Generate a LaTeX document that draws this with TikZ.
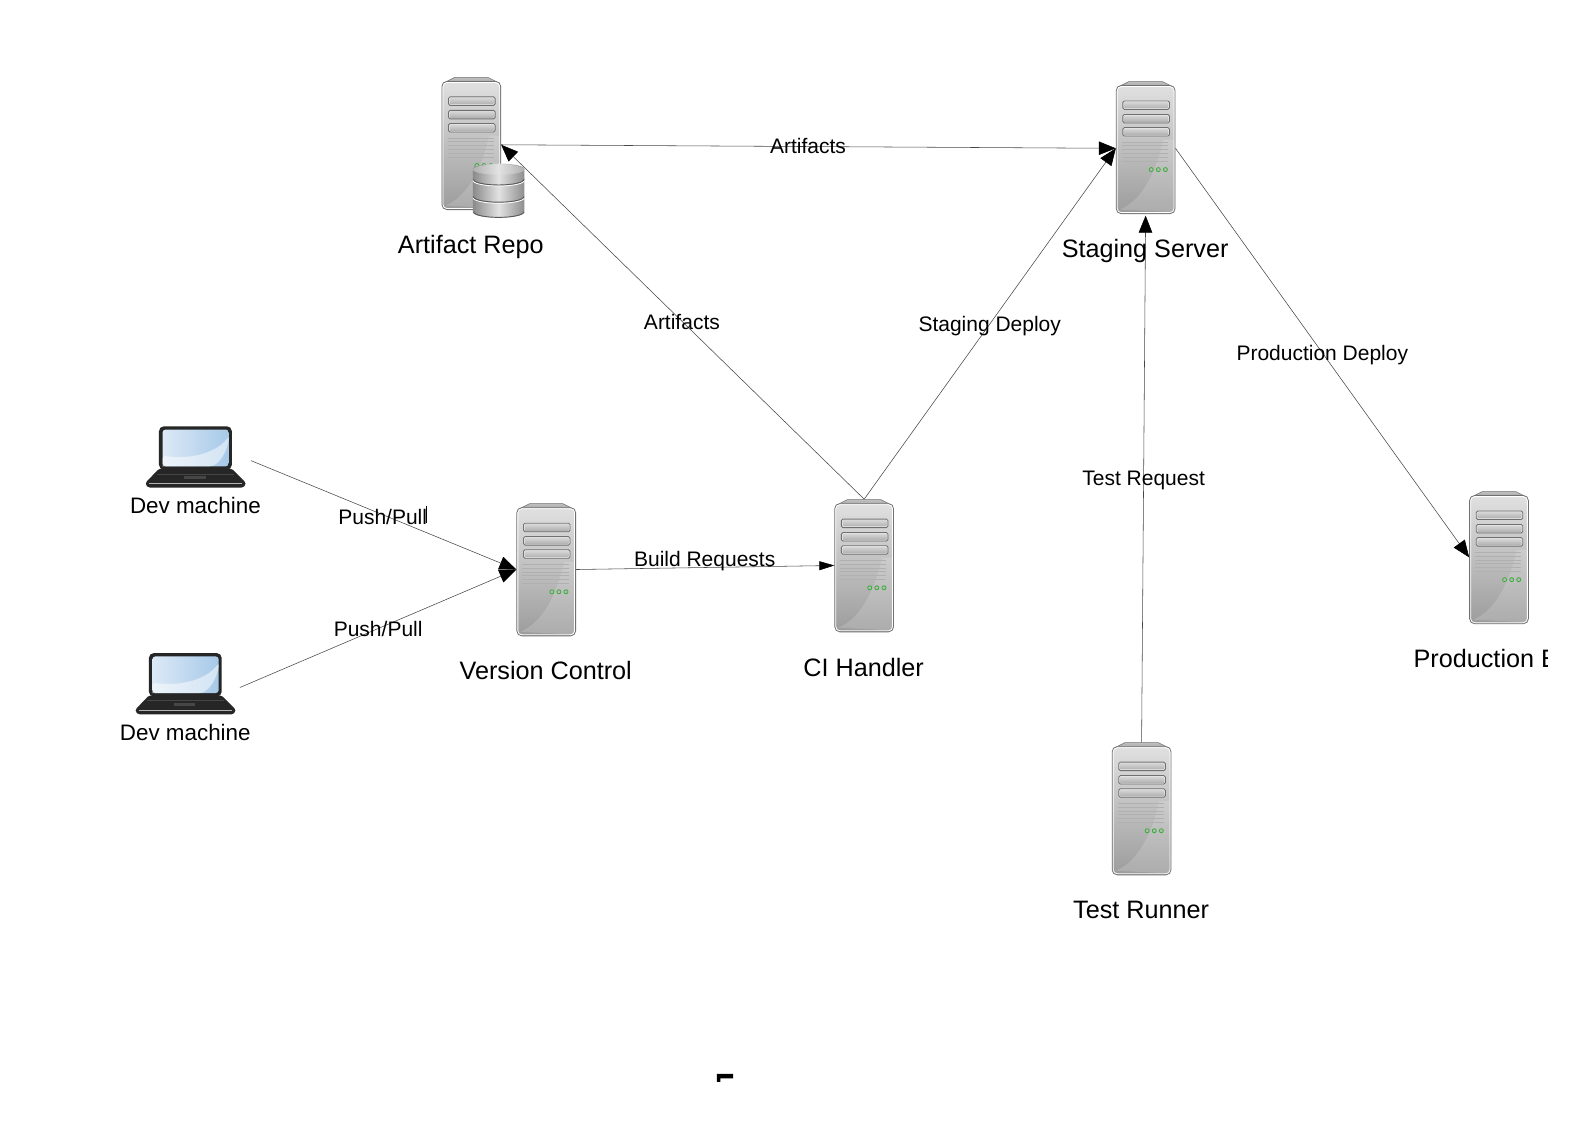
\documentclass[tikz,border=0pt]{standalone}
\usepackage{fontspec}
\setmainfont{Liberation Sans}
\usetikzlibrary{arrows.meta,positioning,calc}
\definecolor{srvedge}{HTML}{707070}
\definecolor{srvtop}{HTML}{E0E0E0}
\definecolor{srvbot}{HTML}{9C9C9C}
\definecolor{slotcol}{HTML}{B8B8B8}
\definecolor{ledcol}{HTML}{35B035}
\definecolor{scrleft}{HTML}{DCE9F6}
\definecolor{scrright}{HTML}{A6C9E8}
\definecolor{dbedge}{HTML}{8A8A8A}
\definecolor{dbmid}{HTML}{E2E2E2}
\tikzset{
  x=1.0125pt,y=-1.0125pt,
  serverbox/.style={minimum width=59.7pt,minimum height=132.6pt,inner sep=0pt,outer sep=0pt},
  laptopbox/.style={minimum width=100pt,minimum height=61.7pt,inner sep=0pt,outer sep=0pt},
  biglabel/.style={font=\fontsize{25.2}{28}\selectfont,text=black,inner sep=0pt},
  devlabel/.style={font=\fontsize{22.4}{26}\selectfont,text=black,inner sep=0pt},
  edgelabel/.style={font=\fontsize{21}{24}\selectfont,text=black,inner sep=0pt},
  link/.style={draw=black!72,line width=0.55pt,-{Triangle[length=17pt,width=13.5pt,black]}},
  linkthin/.style={draw=black!72,line width=0.55pt,-{Triangle[length=15pt,width=9pt,black]}},
  server/.pic={
    \begin{scope}[shift={(-29.5,-65.5)}]
      \path[draw=srvedge,line width=0.5pt,top color=gray!50,bottom color=gray!70]
        (2,6) -- (13,0.5) -- (46,0.5) -- (57,6) -- cycle;
      \path[draw=srvedge,line width=0.9pt,top color=srvtop,bottom color=srvbot,rounded corners=5pt]
        (0.5,4.5) rectangle (58.5,131);
      \fill[white,opacity=0.16] (4,127) .. controls (26,118) and (40,90) .. (47,58)
        -- (57.5,58) -- (57.5,126) .. controls (57.5,128) and (56,129.5) .. (54,129.5) -- cycle;
      \draw[white,line width=0.8pt,rounded corners=4pt] (1.5,5.5) rectangle (57.5,130);
      \foreach \sy in {19.7,33,46}{
        \path[draw=srvedge,line width=0.8pt,top color=gray!35,bottom color=gray!60,rounded corners=1.5pt]
          (7,\sy) rectangle (53,\sy+8.4);
        \draw[white!85!gray,line width=0.5pt,rounded corners=1pt] (8,\sy+1) rectangle (52,\sy+7.4);
        \path[top color=gray!35,bottom color=gray!60] (8.6,\sy+1.6) rectangle (51.4,\sy+6.8);
      }
      \foreach \vy in {60.5,64,68,71.5,75.5,79.5}{
        \draw[gray!62,line width=0.7pt] (6,\vy) -- (51.5,\vy);
      }
      \foreach \lx in {35,42,49}{
        \draw[ledcol,line width=0.8pt,fill=gray!55] (\lx,87.5) circle[radius=2];
      }
    \end{scope}
  },
  dbdisc/.pic={
    \path[left color=dbedge,right color=gray!90,middle color=dbmid]
      (0,0) -- (0,\dbh) arc[start angle=180,end angle=0,x radius=25.5,y radius=5.5]
      -- (51,0) arc[start angle=0,end angle=-180,x radius=25.5,y radius=5.5] -- cycle;
    \draw[white,line width=0.9pt] (0.2,\dbh+0.2) arc[start angle=180,end angle=0,x radius=25.3,y radius=5.5];
    \draw[black!65,line width=0.9pt] (0.6,\dbh-0.8) arc[start angle=180,end angle=0,x radius=24.9,y radius=5.5];
  },
  laptop/.pic={
    \begin{scope}[shift={(-49.5,-30.5)}]
      \path[fill=black!85,rounded corners=1.5pt]
        (13,42) -- (85,42) -- (98.5,55.5) -- (98.5,58) -- (96,60.5) -- (2.5,60.5) -- (0,58) -- (0,55.5) -- cycle;
      \draw[gray!60,line width=0.6pt] (3,56.5) -- (95.5,56.5);
      \draw[gray!55!black,line width=0.6pt] (11,47) -- (87,47);
      \fill[gray!55!black] (38,49) rectangle (59,52);
      \fill[black!85,rounded corners=5pt] (13,0) rectangle (85,43);
      \path[left color=scrleft,right color=scrright,rounded corners=3pt]
        (16.5,3.3) rectangle (82,39.5);
      \fill[white,opacity=0.5,rounded corners=3pt]
        (16.5,29) .. controls (40,33) and (68,28) .. (82,10) -- (82,14)
        .. controls (78,30) and (70,39.5) .. (60,39.5) -- (19,39.5) .. controls (17,39.5) and (16.5,38) .. (16.5,36) -- cycle;
    \end{scope}
  }
}
\begin{document}
\begin{tikzpicture}
\useasboundingbox (0,0) rectangle (1568.4,1109.1);
\fill[white] (0,0) rectangle (1568.4,1109.1);

% placing nodes
\node[serverbox] (artifact) at (465.5,141.5) {};
\node[serverbox] (staging) at (1131.5,145.5) {};
\node[serverbox] (version) at (539.5,562.5) {};
\node[serverbox] (ci) at (853.5,558.5) {};
\node[serverbox] (production) at (1480.5,550.5) {};
\node[serverbox] (testrunner) at (1127.5,798.5) {};
\node[laptopbox] (lap1) at (193.5,451.5) {};
\node[laptopbox] (lap2) at (183.5,675.5) {};
\coordinate (lap1out) at (248,455);
\coordinate (lap2out) at (237,679);

% icons
\pic at (artifact.center) {server};
\pic at (staging.center) {server};
\pic at (version.center) {server};
\pic at (ci.center) {server};
\pic at (production.center) {server};
\pic at (testrunner.center) {server};
\def\dbh{15}
\pic at (467,195) {dbdisc};
\def\dbh{18}
\pic at (467,177) {dbdisc};
\def\dbh{11}
\pic at (467,167) {dbdisc};
\path[left color=gray!62,right color=gray!62,middle color=gray!22]
  (492.5,167.5) ellipse[x radius=25.5,y radius=5];

\pic at (lap1.center) {laptop};
\pic at (lap2.center) {laptop};

% connectors
\draw[link] ([yshift=-1.5pt]artifact.east) -- ([yshift=-1pt]staging.west);
\draw[link] (ci.north) -- ([yshift=-1.5pt]artifact.east);
\draw[link] (ci.north) -- ([yshift=-1pt]staging.west);
\draw[link,shorten >=2pt] (testrunner.north) -- (staging.south);
\draw[link] ([yshift=-1pt]staging.east) -- (production.west);
\draw[link] (lap1out) -- (version.west);
\draw[link] (lap2out) -- (version.west);
\draw[linkthin] (version.east) -- (ci.west);

% labels of the connectors
\node[edgelabel] (l1) at (798,144) {Artifacts};
\node[edgelabel] (l2) at (673.5,318) {Artifacts};
\node[edgelabel] (l3) at (977.5,322) {Staging Deploy};
\node[edgelabel] (l4) at (1306,351) {Production Deploy};
\node[edgelabel] (l5) at (1129.5,475) {Test Request};
\node[edgelabel] (l6) at (378,511) {Push/Pull};
\node[edgelabel] (l7) at (373.5,621) {Push/Pull};
\node[edgelabel] (l8) at (696,554) {Build Requests};
\draw[black,line width=0.8pt] (421,499.5) -- (421,517);

% labels of the icons
\node[biglabel] (t1) at (465,243.5) {Artifact Repo};
\node[biglabel] (t2) at (1131,247.5) {Staging Server};
\node[biglabel] (t3) at (539,662.5) {Version Control};
\node[biglabel] (t4) at (853,659) {CI Handler};
\node[biglabel] (t5) at (1127,898.5) {Test Runner};
\begin{scope}
  \clip (1380,630) rectangle (1528.5,670);
  \node[biglabel,anchor=west] (t6) at (1396,650) {Production E};
\end{scope}
\node[devlabel] (d1) at (193,499) {Dev machine};
\node[devlabel] (d2) at (183,723) {Dev machine};

% stray mark
\fill[black] (708,1060.5) -- (724,1060.5) -- (724,1065) -- (711.5,1065) -- (711.5,1068.5) -- (708,1068.5) -- cycle;
\end{tikzpicture}
\end{document}
